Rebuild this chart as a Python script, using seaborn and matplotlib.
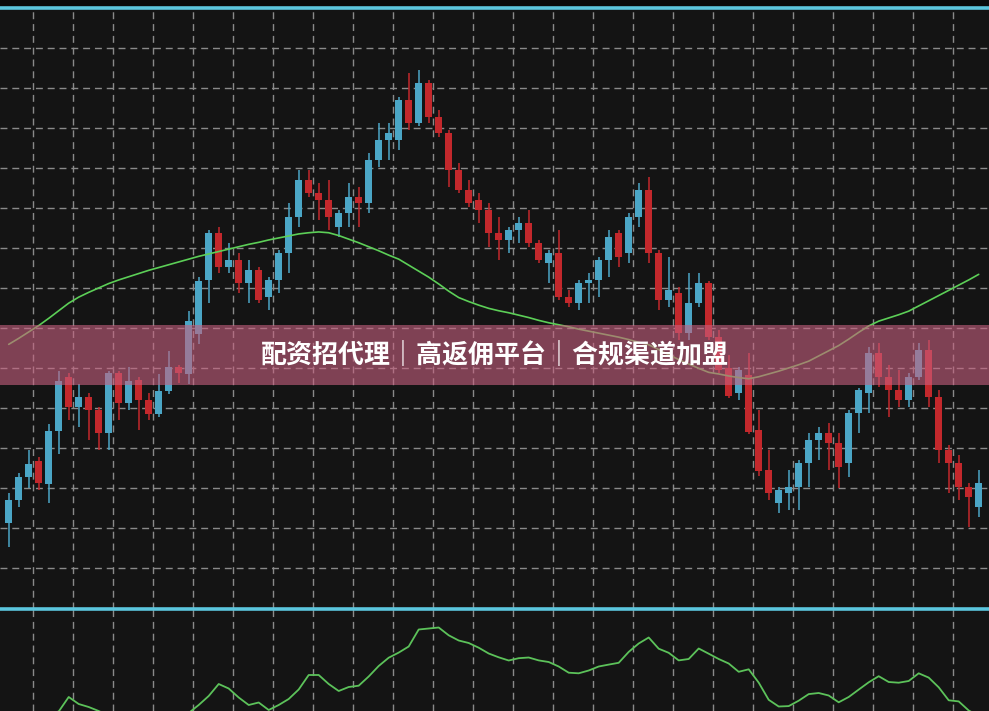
import numpy as np
import pandas as pd
import matplotlib
matplotlib.use("Agg")
import matplotlib.pyplot as plt
import seaborn as sns
from matplotlib.patches import Rectangle

# K线数据 (开/高/低/收)
opens = [11.25, 17, 22.75, 26.75, 21, 34.25, 47.75, 40.25, 42.75, 39.5,
         33.75, 48.75, 41.25, 47, 42, 38.5, 44.25, 50.25, 48.5, 58.5,
         72, 83.75, 75.25, 77, 71.25, 74.5, 67.75, 72, 78.75, 87.75,
         97, 93.75, 92, 85.25, 88.75, 92.75, 91.25, 102, 107, 107,
         117, 111.25, 121.25, 112.75, 108.75, 99.5, 94.5, 92, 89.5, 83.75,
         82, 84.5, 86.25, 81.25, 76.25, 78.75, 67.75, 66.25, 71.25, 72,
         77, 83.75, 78.75, 87.75, 94.5, 78.75, 67, 68.75, 58.75, 66.25,
         71.25, 57.75, 50, 43.75, 48.25, 34.5, 24.5, 16.25, 18.75, 20.25,
         26.25, 32, 33.75, 31.25, 26.25, 38.75, 43.75, 53.75, 47.75, 44.5,
         42, 47.75, 54.5, 42.75, 29.5, 26.25, 20.25, 15.25]
highs = [18.75, 23.75, 29.5, 27.75, 36, 49.25, 48.75, 46, 43.75, 40.25,
         49.25, 49.25, 50.25, 47.75, 43.75, 48.5, 54.25, 50.75, 64.25, 72.75,
         84.5, 85.25, 81.25, 78.75, 77, 75.25, 72.75, 79.5, 91.25, 99.5,
         99.5, 96.25, 97, 89.5, 96.25, 95.25, 103.75, 111.25, 111.25, 117.75,
         123.75, 124.5, 122, 114.5, 109.5, 101.25, 97, 93.75, 91.25, 87.75,
         85.25, 87.75, 89.5, 82, 79.5, 84.5, 69.5, 72, 73.75, 77.75,
         84.5, 84.5, 88.75, 96.25, 97.75, 79.5, 77.75, 70.25, 73.75, 73.75,
         71.75, 59.5, 53.25, 50.25, 53.75, 39.5, 29.5, 20.25, 24.5, 27,
         33.75, 35.25, 36.25, 33.75, 39.5, 45, 55.25, 56.25, 50.75, 49.5,
         48.75, 56.25, 57, 44.5, 30.75, 28.25, 21.25, 24.5]
lows = [5.25, 15.25, 20, 19.5, 16.25, 28.5, 37, 35.25, 32, 29.5,
        29.5, 37, 39.5, 34.5, 37, 37.75, 43.5, 46.25, 46, 56,
        66.25, 73.75, 73.75, 68.75, 66.25, 66.25, 64.5, 68.75, 73.75, 85.25,
        92.75, 87, 84.5, 82.75, 85.25, 85.25, 88.75, 100.25, 102, 104.5,
        109.5, 110.5, 111.25, 107.75, 95.25, 93.75, 90.25, 86.25, 80.25, 77,
        78.75, 81.25, 80.25, 76.25, 71.25, 67, 65.25, 64.5, 66.25, 67.75,
        72.75, 75.25, 76.25, 85.25, 76.25, 64.5, 65.25, 57, 57, 65.25,
        57, 48.75, 42.5, 42, 33.5, 23, 17, 13.75, 14.5, 14.5,
        20.25, 27, 24.5, 20, 22.75, 33.75, 38.75, 45.25, 37.75, 40.25,
        40.25, 47, 40.25, 26.25, 18.75, 17, 10.25, 12.75]
closes = [17, 22.75, 26, 21.25, 34.25, 46.75, 40.25, 42.75, 39.5, 33.75,
          48.75, 41.25, 46.75, 42, 38.5, 44.25, 50.25, 48.75, 61.75, 71.75,
          83.75, 75.25, 77, 71.25, 74.5, 67, 72, 78.75, 87.75, 97,
          93.75, 92, 87.75, 88.75, 92.75, 91.25, 102, 107, 108.75, 117,
          111.25, 121.25, 112.75, 108.75, 99.5, 94.5, 91.25, 89.5, 83.75, 82,
          84.5, 86.25, 81.25, 77, 78.75, 67.75, 66.25, 71.25, 72, 77,
          82.75, 77.75, 87.75, 94.5, 78.75, 67, 69.5, 58.75, 66.25, 71.25,
          57.75, 49.5, 43, 49.5, 34, 24.25, 18.75, 19.5, 20.25, 26.25,
          32, 33.75, 31.25, 25.25, 38.75, 44.5, 53.75, 47.75, 44.5, 42,
          47.75, 54.5, 42.75, 29.5, 26.25, 20.25, 17.75, 21.25]

# 均线
ma_line = [55.9, 57.4, 59.0, 60.6, 62.4, 64.3, 66.2, 67.7, 68.9, 70.0,
           71.1, 72.0, 72.8, 73.6, 74.4, 75.1, 75.8, 76.5, 77.2, 77.9,
           78.5, 79.1, 79.7, 80.3, 80.9, 81.4, 82.0, 82.5, 83.0, 83.5,
           83.8, 84.0, 83.8, 83.1, 82.2, 81.3, 80.3, 79.3, 78.2, 77.2,
           75.7, 74.2, 72.7, 71.0, 69.2, 67.6, 66.6, 65.7, 64.9, 64.3,
           63.8, 63.2, 62.6, 61.9, 61.3, 60.8, 60.3, 59.7, 59.2, 58.7,
           58.2, 57.7, 57.1, 56.4, 55.8, 54.6, 53.3, 52.1, 51.0, 49.9,
           48.9, 48.5, 48.0, 47.6, 47.3, 47.8, 48.5, 49.2, 50.0, 50.8,
           51.7, 53.0, 54.3, 55.6, 57.2, 58.9, 60.5, 61.7, 62.5, 63.3,
           64.2, 65.5, 66.8, 68.1, 69.4, 70.7, 72.0, 73.4]

# 副图指标
osc_line = [-19, -14, -11, -7, -3, -0.5, 14, 7, 4, 0,
            -5, -9, -11, -9, -11, -13, -9, -5, -2, 6,
            15, 27, 22.5, 13.5, 6, 8.5, 1, 6, 12, 21.5,
            36, 36, 27, 20, 24, 25.3, 34.5, 45, 53.3, 58.4,
            64.5, 81.5, 82.5, 83.5, 75.7, 70.5, 68, 63.3, 57.5, 53.7,
            50.5, 52.8, 53.5, 50.6, 49, 44.5, 38.3, 37.7, 40.5, 44.5,
            46.4, 48.2, 59.1, 67.5, 73.5, 62.3, 58.2, 50.6, 52, 62.5,
            57.3, 52, 47.5, 39.2, 41.7, 28.4, 11.2, 4.5, 4.9, 10.3,
            16.9, 18, 15.5, 8.7, 14, 21.4, 28.7, 34.8, 29, 28.3,
            30, 37.7, 33.4, 23.7, 10.7, 9.6, 0.5, -5]

banner_text = "配资招代理｜高返佣平台｜合规渠道加盟"

df = pd.DataFrame({'open': opens, 'high': highs, 'low': lows, 'close': closes})
df['idx'] = np.arange(len(df))
df['ma'] = ma_line
df['osc'] = osc_line

sns.set_theme(style="dark")
plt.rcParams['font.family'] = ['Noto Sans CJK SC', 'DejaVu Sans']

bg = '#141414'
up_col = '#4ba6c6'
dn_col = '#c3282c'
cyan = '#5cc6de'
grid_col = '#8a8a8a'
dash = (0, (5, 3.5))

fig = plt.figure(figsize=(9.89, 7.11), dpi=100, facecolor='#0b0b0b')
H = 711.0
ax = fig.add_axes([0, 102 / H, 1, (H - 8.3 - 102) / H])
ax2 = fig.add_axes([0, 0, 1, 102 / H], sharex=ax)
ax.set_zorder(2)

for a in (ax, ax2):
    a.set_facecolor(bg)
    a.set_xticks(np.arange(2.4, 98, 4))
    a.tick_params(length=0, labelbottom=False, labelleft=False)
    a.set_axisbelow(True)
    for s in a.spines.values():
        s.set_visible(False)

# 主图网格
ax.set_yticks(np.arange(0, 131, 10))
ax.grid(True, color=grid_col, ls=dash, lw=1)
ax2.set_yticks([])
ax2.grid(True, axis='x', color=grid_col, ls=dash, lw=1)

# K线
is_up = df['close'] >= df['open']
colors = np.where(is_up, up_col, dn_col)
ax.vlines(df['idx'], df['low'], df['high'], colors=colors, lw=1.1, zorder=3)
ax.bar(df['idx'], (df['close'] - df['open']).abs(),
       bottom=df[['open', 'close']].min(axis=1), width=0.68,
       color=colors, linewidth=0, zorder=4)

sns.lineplot(data=df, x='idx', y='ma', ax=ax, color='#5ccf57', lw=1.2, zorder=5)
sns.lineplot(data=df, x='idx', y='osc', ax=ax2, color='#5cc25a', lw=1.3)

ax.set_xlim(-0.87, 98.03)
ax.set_ylim(-10.25, 139.9)
ax2.set_ylim(0, 102)
for a in (ax, ax2):
    a.set_xlabel('')
    a.set_ylabel('')

for side in ('top', 'bottom'):
    ax.spines[side].set_visible(True)
    ax.spines[side].set_color(cyan)
    ax.spines[side].set_linewidth(2.6)

# 横幅
fig.add_artist(Rectangle((0, (H - 385) / H), 1, 60 / H, transform=fig.transFigure,
                         facecolor='#c8607f', alpha=0.6, edgecolor='none', zorder=10))
fig.text(495 / 989, 1 - 355 / H, banner_text, ha='center', va='center',
         color='white', fontsize=18.7, fontweight='bold', zorder=11)

fig.savefig('out.png', dpi=100, facecolor=fig.get_facecolor())
